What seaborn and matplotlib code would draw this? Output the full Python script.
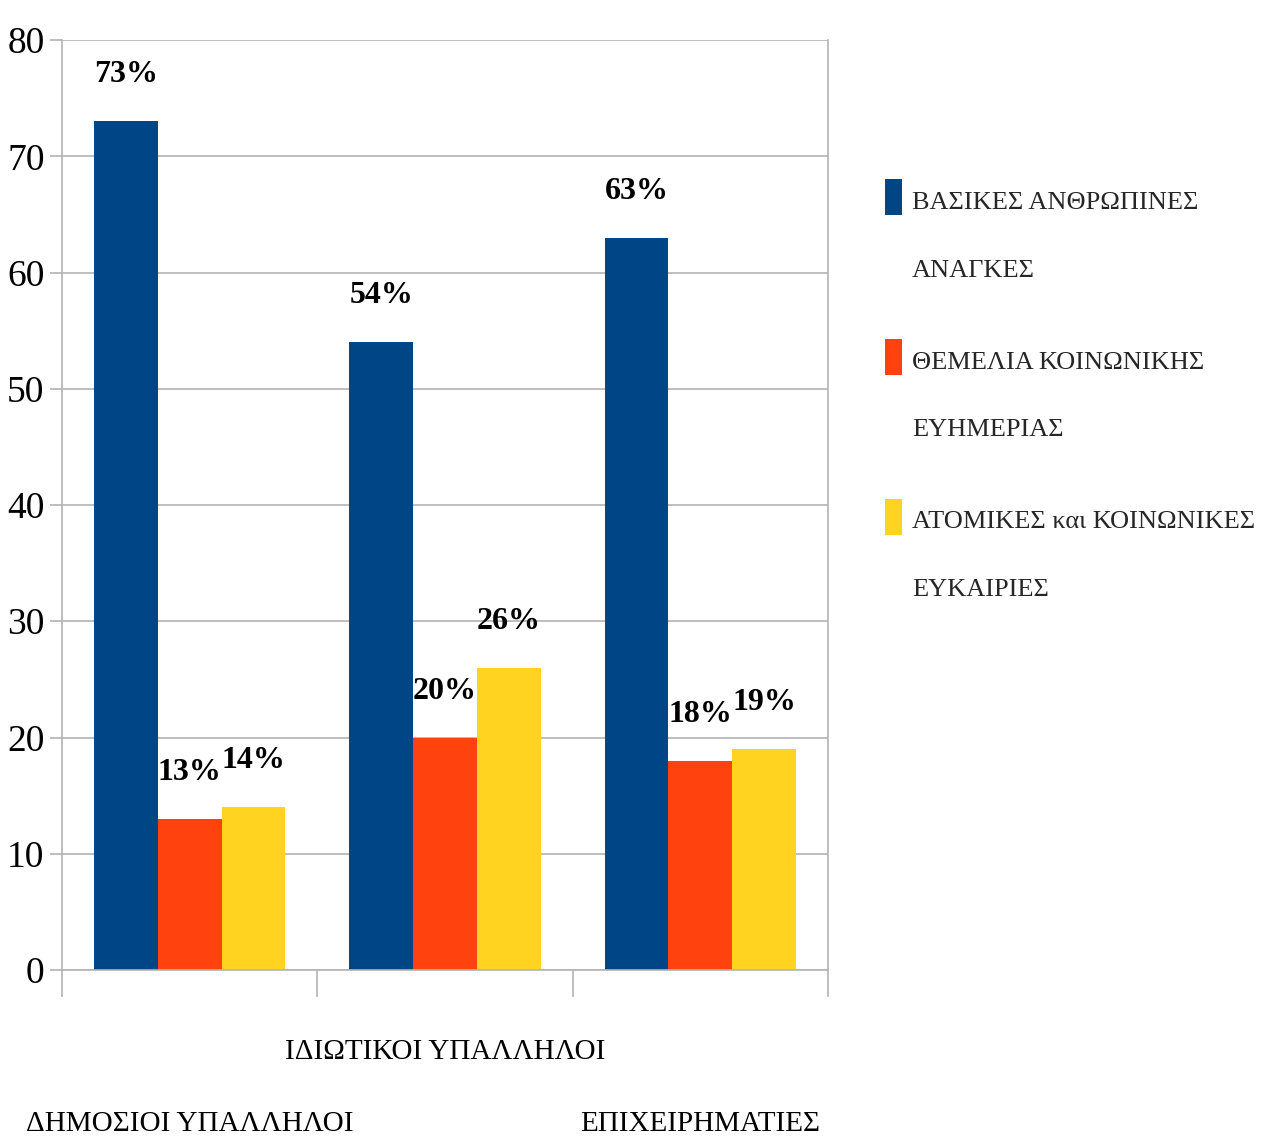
import matplotlib

matplotlib.use("Agg")

import matplotlib.pyplot as plt
import matplotlib.transforms as mtransforms
import pandas as pd
import seaborn as sns
from matplotlib.legend_handler import HandlerPatch
from matplotlib.patches import Patch, Rectangle

# chart values
groups = ["ΔΗΜΟΣΙΟΙ ΥΠΑΛΛΗΛΟΙ", "ΙΔΙΩΤΙΚΟΙ ΥΠΑΛΛΗΛΟΙ", "ΕΠΙΧΕΙΡΗΜΑΤΙΕΣ"]
series = [
    "ΒΑΣΙΚΕΣ ΑΝΘΡΩΠΙΝΕΣ\nΑΝΑΓΚΕΣ",
    "ΘΕΜΕΛΙΑ ΚΟΙΝΩΝΙΚΗΣ\nΕΥΗΜΕΡΙΑΣ",
    "ΑΤΟΜΙΚΕΣ και ΚΟΙΝΩΝΙΚΕΣ\nΕΥΚΑΙΡΙΕΣ",
]
basic_needs = [73, 54, 63]
welfare = [13, 20, 18]
opportunities = [14, 26, 19]
colors = ["#004586", "#ff420e", "#ffd320"]
y_ticks = [0, 10, 20, 30, 40, 50, 60, 70, 80]

GRID = "#b3b3b3"
FONT = ["Liberation Serif", "DejaVu Serif"]

df = pd.DataFrame({
    "group": groups * 3,
    "series": [series[0]] * 3 + [series[1]] * 3 + [series[2]] * 3,
    "value": basic_needs + welfare + opportunities,
})

sns.set_theme(style="white")
plt.rcParams["font.family"] = FONT

fig = plt.figure(figsize=(12.69, 11.42), dpi=100)
ax = fig.add_axes([62 / 1269, 1 - 970 / 1142, (828 - 62) / 1269, (970 - 40) / 1142])

sns.barplot(
    data=df, x="group", y="value", hue="series", order=groups, hue_order=series,
    palette=dict(zip(series, colors)), width=0.75, saturation=1, legend=False,
    linewidth=0, edgecolor="none", ax=ax,
)

for container in ax.containers:
    ax.bar_label(container, fmt="{:.0f}%", padding=23, fontsize=23,
                 fontweight="bold", color="black")

ax.set_ylim(0, 80)
ax.set_xlim(-0.5, 2.5)
ax.set_yticks(y_ticks)
ax.set_xlabel("")
ax.set_ylabel("")
ax.yaxis.grid(True, color=GRID, linewidth=1.2)
ax.set_axisbelow(True)
for side in ["left", "bottom", "right", "top"]:
    ax.spines[side].set_color(GRID)
    ax.spines[side].set_linewidth(1.2)
ax.spines["top"].set_visible(False)

ax.tick_params(axis="y", length=8.6, width=1.2, color=GRID, pad=4,
               labelsize=27, labelcolor="black", left=True)
ax.set_xticks([-0.5, 0.5, 1.5, 2.5], minor=True)
ax.tick_params(axis="x", which="minor", length=19.5, width=1.2, color=GRID, bottom=True)
ax.tick_params(axis="x", which="major", length=0, pad=50, labelsize=21, labelcolor="black")

# staggered category labels
shift = mtransforms.ScaledTranslation(0, -0.72, fig.dpi_scale_trans)
for i, lbl in enumerate(ax.get_xticklabels()):
    if i % 2 == 0:
        lbl.set_transform(lbl.get_transform() + shift)


def top_aligned_patch(legend, orig_handle, xdescent, ydescent, width, height, fontsize):
    # keep the colour square level with the first line of a two-line label
    return Rectangle((-xdescent, -ydescent + 26), width, 26)


handles = [Patch(facecolor=c, edgecolor="none") for c in colors]
leg = fig.legend(
    handles, series, loc="upper left", bbox_to_anchor=(861 / 1269, 1 - 168 / 1142),
    frameon=False, fontsize=19, handlelength=0.64, handleheight=1.36,
    handletextpad=0.4, labelspacing=2.65,
    handler_map={Patch: HandlerPatch(patch_func=top_aligned_patch)},
)
for t in leg.get_texts():
    t.set_linespacing(3.7)

fig.savefig("out.png", dpi=100)
